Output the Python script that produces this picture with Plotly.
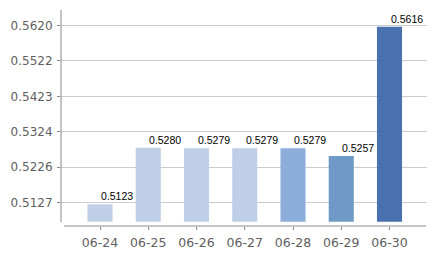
import plotly.graph_objects as go

categories = ["06-24", "06-25", "06-26", "06-27", "06-28", "06-29", "06-30"]
values = [0.5123, 0.5280, 0.5279, 0.5279, 0.5279, 0.5257, 0.5616]
value_labels = ["0.5123", "0.5280", "0.5279", "0.5279", "0.5279", "0.5257", "0.5616"]
y_ticks = [0.5127, 0.5226, 0.5324, 0.5423, 0.5522, 0.5620]
y_tick_labels = ["0.5127", "0.5226", "0.5324", "0.5423", "0.5522", "0.5620"]

bar_colors = ["#BFCFE8", "#BFCFE8", "#BFCFE8", "#BFCFE8", "#8DADDA", "#6F9AC7", "#4A71AF"]

W, H = 438, 260
L, R, T, B = 61, 11, 10, 26
base_val = 0.507475
y_range = [0.506270, 0.566287]
x_range = [-0.8083, 6.777]

xs = list(range(len(categories)))

fig = go.Figure()
fig.add_trace(go.Bar(
    x=xs,
    y=[v - base_val for v in values],
    base=base_val,
    width=0.52,
    marker=dict(color=bar_colors, line=dict(width=0)),
    hoverinfo="skip",
))

for xi, v, lab in zip(xs, values, value_labels):
    fig.add_annotation(
        x=xi, y=v, text=lab, showarrow=False,
        xanchor="left", yanchor="bottom", xshift=-1, yshift=0,
        font=dict(family="Liberation Sans, Arial, sans-serif", size=10.5, color="#000000"),
    )

# detached axis lines
fig.add_shape(type="line", xref="paper", yref="paper",
              x0=(64 - L) / (W - L - R), x1=(426 - L) / (W - L - R), y0=0, y1=0,
              line=dict(color="#888888", width=1))
fig.add_shape(type="line", xref="paper", yref="paper",
              x0=0, x1=0, y0=(234 - 230) / (H - T - B), y1=1,
              line=dict(color="#888888", width=1))

y_font = dict(family="DejaVu Sans, Verdana, sans-serif", size=12, color="#606060")
x_font = dict(family="DejaVu Sans, Verdana, sans-serif", size=12.5, color="#606060")

fig.update_layout(
    width=W, height=H,
    margin=dict(l=L, r=R, t=T, b=B, pad=0),
    paper_bgcolor="white", plot_bgcolor="white",
    showlegend=False,
    xaxis=dict(
        range=x_range, tickmode="array", tickvals=xs, ticktext=categories,
        showgrid=False, zeroline=False, showline=False,
        ticks="outside", ticklen=3, tickcolor="#888888", tickwidth=1,
        tickfont=x_font, ticklabelstandoff=2, fixedrange=True,
    ),
    yaxis=dict(
        range=y_range, tickmode="array", tickvals=y_ticks, ticktext=y_tick_labels,
        showgrid=True, gridcolor="#CCCCCC", gridwidth=1, zeroline=False, showline=False,
        ticks="outside", ticklen=3, tickcolor="#888888", tickwidth=1,
        tickfont=y_font, ticklabelstandoff=2, fixedrange=True,
    ),
)

fig.write_html("out.html")
